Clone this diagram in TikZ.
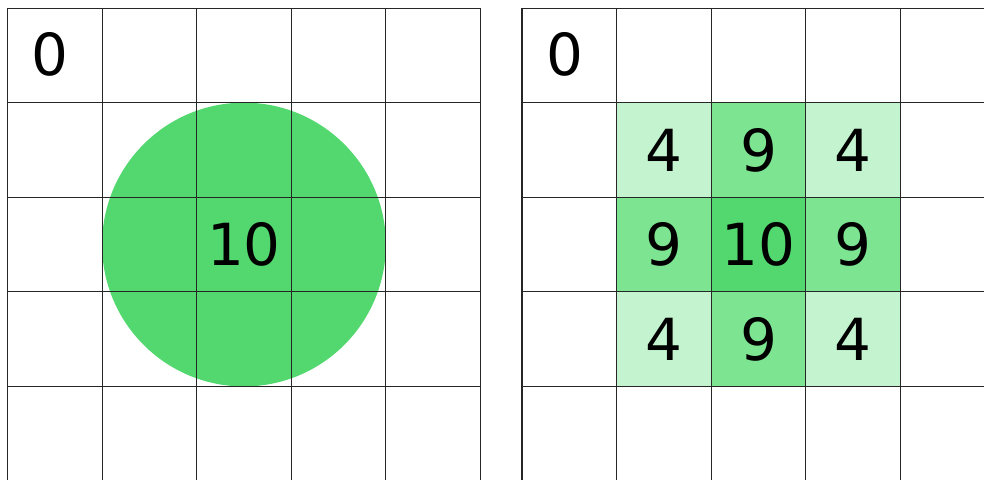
\documentclass[tikz,border=0pt]{standalone}
\usepackage{fontspec}
\setmainfont{DejaVu Sans}
\definecolor{full}{HTML}{52D86E}
\definecolor{half}{HTML}{7DE591}
\definecolor{weak}{HTML}{C3F4CF}
\tikzset{gridline/.style={line width=0.6pt,black!85},
	val/.style={inner sep=0pt}}
\begin{document}
\begin{tikzpicture}[x=1.892cm,y=-1.892cm,line join=round,font=\fontsize{33}{36}\selectfont]
	\useasboundingbox (0,0) rectangle (10.402,5.074);
	\path
	(0.079,0.085) coordinate (L)
	(5.518,0.085) coordinate (R)
	;
	% source and its splat
	\fill[full] ([shift={(2.5,2.5)}]L) circle (1.5);
	\foreach \i/\j/\c in {1/1/weak,2/1/half,3/1/weak,1/2/half,2/2/full,3/2/half,1/3/weak,2/3/half,3/3/weak}
	\fill[\c] ([shift={(\i,\j)}]R) rectangle +(1,1);
	% grids
	\foreach \g in {L,R}{
		\foreach \k in {0,...,5}
		\draw[gridline] ([shift={(\k,0)}]\g) -- +(0,5);
		\foreach \k in {0,...,4}
		\draw[gridline] ([shift={(0,\k)}]\g) -- +(5,0);
	}
	% values
	\node[val] (zeroL) at ([shift={(0.45,0.49)}]L) {0};
	\node[val] (srcL) at ([shift={(2.5,2.5)}]L) {10};
	\node[val] (zeroR) at ([shift={(0.45,0.49)}]R) {0};
	\foreach \i/\j/\v in {1/1/4,2/1/9,3/1/4,1/2/9,2/2/10,3/2/9,1/3/4,2/3/9,3/3/4}
	\node[val] (v\i\j) at ([shift={(\i+0.5,\j+0.5)}]R) {\v};
\end{tikzpicture}
\end{document}
